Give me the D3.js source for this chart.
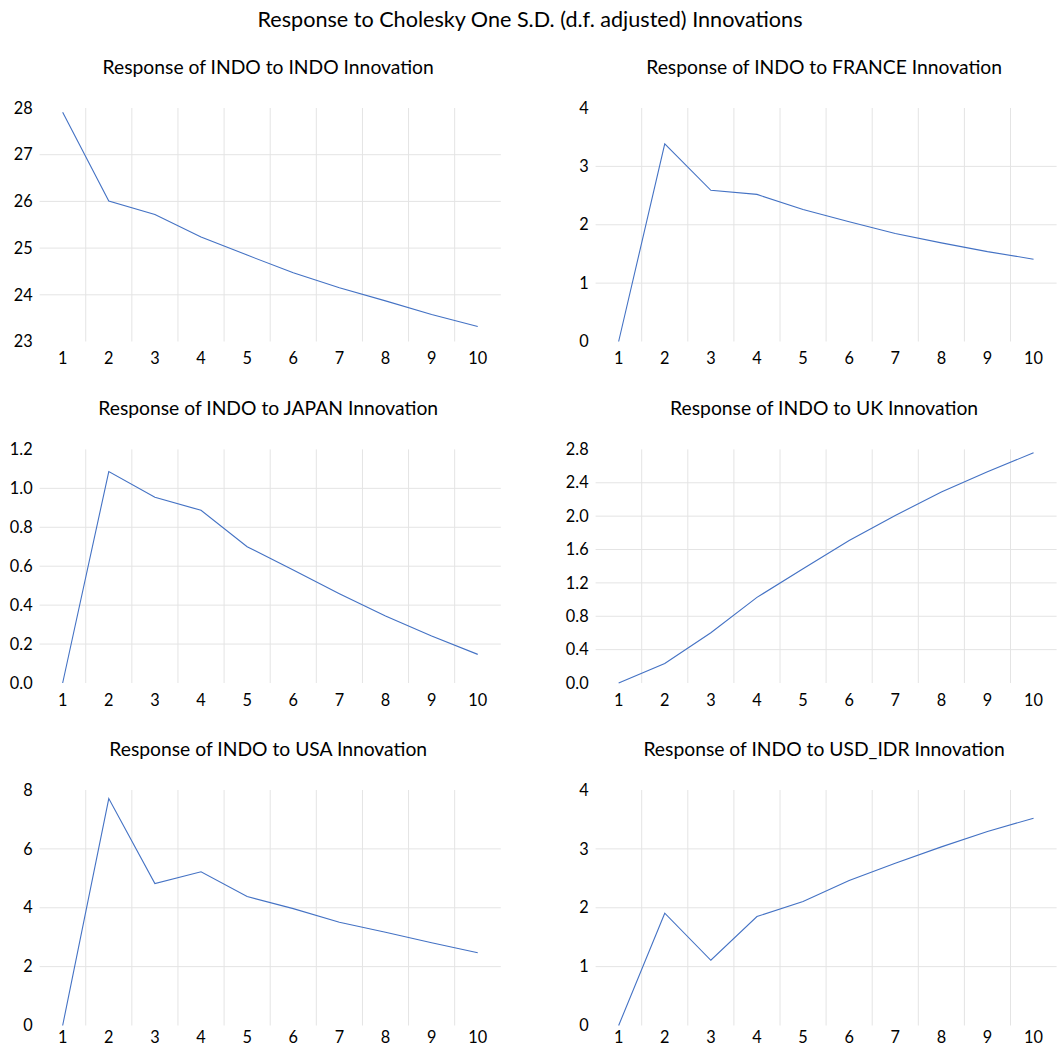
<!DOCTYPE html>
<html>
<head>
<meta charset="utf-8">
<script src="https://cdn.jsdelivr.net/npm/d3@7"></script>
<style>
  body { margin: 0; background: #fff; }
  svg { display: block; }
  text { font-family: Lato, "Open Sans", sans-serif; fill: #000; }
</style>
</head>
<body>
<svg id="chart" width="1061" height="1048"></svg>
<script>
// ---- data ----
const periods = [1, 2, 3, 4, 5, 6, 7, 8, 9, 10];

const indoToIndo   = [27.91, 26.01, 25.72, 25.24, 24.85, 24.47, 24.15, 23.87, 23.58, 23.32];
const indoToFrance = [0.00, 3.385, 2.59, 2.52, 2.26, 2.05, 1.85, 1.69, 1.54, 1.41];
const indoToJapan  = [0.00, 1.086, 0.954, 0.887, 0.700, 0.580, 0.459, 0.344, 0.241, 0.147];
const indoToUk     = [0.00, 0.234, 0.602, 1.026, 1.370, 1.707, 2.008, 2.289, 2.531, 2.760];
const indoToUsa    = [0.00, 7.71, 4.82, 5.22, 4.38, 3.97, 3.51, 3.17, 2.81, 2.47];
const indoToUsdIdr = [0.00, 1.907, 1.108, 1.850, 2.105, 2.462, 2.756, 3.034, 3.295, 3.521];

const ticksIndo   = [23, 24, 25, 26, 27, 28];
const ticksFrance = [0, 1, 2, 3, 4];
const ticksJapan  = [0.0, 0.2, 0.4, 0.6, 0.8, 1.0, 1.2];
const ticksUk     = [0.0, 0.4, 0.8, 1.2, 1.6, 2.0, 2.4, 2.8];
const ticksUsa    = [0, 2, 4, 6, 8];
const ticksUsdIdr = [0, 1, 2, 3, 4];

const mainTitle = "Response to Cholesky One S.D. (d.f. adjusted) Innovations";
const panelTitles = [
  "Response of INDO to INDO Innovation",
  "Response of INDO to FRANCE Innovation",
  "Response of INDO to JAPAN Innovation",
  "Response of INDO to UK Innovation",
  "Response of INDO to USA Innovation",
  "Response of INDO to USD_IDR Innovation"
];

const panels = [
  { title: panelTitles[0], values: indoToIndo,   ticks: ticksIndo,   fmt: d3.format("d") },
  { title: panelTitles[1], values: indoToFrance, ticks: ticksFrance, fmt: d3.format("d") },
  { title: panelTitles[2], values: indoToJapan,  ticks: ticksJapan,  fmt: d3.format(".1f") },
  { title: panelTitles[3], values: indoToUk,     ticks: ticksUk,     fmt: d3.format(".1f") },
  { title: panelTitles[4], values: indoToUsa,    ticks: ticksUsa,    fmt: d3.format("d") },
  { title: panelTitles[5], values: indoToUsdIdr, ticks: ticksUsdIdr, fmt: d3.format("d") }
];

// ---- layout ----
const svg = d3.select("#chart");
const colX = [[39.6, 500.8], [595.6, 1056.6]];
const rowY = [[108, 341.5], [449.4, 683], [790, 1025.5]];
const xPad = [11, 11, 6];
const gridColor = "#e4e4e4";
const lineColor = "#4472C4";

svg.append("text")
  .attr("x", 530)
  .attr("y", 27)
  .attr("text-anchor", "middle")
  .style("font-size", "21.6px")
  .text(mainTitle);

panels.forEach((p, i) => {
  const col = i % 2, row = Math.floor(i / 2);
  const [x0, x1] = colX[col];
  const [y0, y1] = rowY[row];

  const x = d3.scaleBand().domain(periods).range([x0, x1]).padding(0);
  const y = d3.scaleLinear().domain(d3.extent(p.ticks)).range([y1, y0]);

  const g = svg.append("g");

  // horizontal gridlines (interior ticks only)
  g.selectAll("line.hgrid")
    .data(p.ticks.slice(1, -1))
    .join("line")
    .attr("class", "hgrid")
    .attr("x1", x0).attr("x2", x1)
    .attr("y1", d => y(d)).attr("y2", d => y(d))
    .attr("stroke", gridColor).attr("stroke-width", 1);

  // vertical gridlines at interior band boundaries
  g.selectAll("line.vgrid")
    .data(periods.slice(1))
    .join("line")
    .attr("class", "vgrid")
    .attr("x1", d => x(d)).attr("x2", d => x(d))
    .attr("y1", y0).attr("y2", y1)
    .attr("stroke", gridColor).attr("stroke-width", 1);

  // y tick labels
  const yAxis = d3.axisLeft(y).tickValues(p.ticks).tickFormat(p.fmt).tickSize(0).tickPadding(7);
  const ya = g.append("g").attr("transform", `translate(${x0},0)`).call(yAxis);
  ya.select(".domain").remove();
  ya.selectAll("text").style("font-size", "16.3px").attr("fill", "#000").style("font-family", "Lato, sans-serif");

  // x tick labels
  const xAxis = d3.axisBottom(x).tickSize(0).tickPadding(xPad[row]);
  const xa = g.append("g").attr("transform", `translate(0,${y1})`).call(xAxis);
  xa.select(".domain").remove();
  xa.selectAll("text").style("font-size", "16.3px").attr("fill", "#000").style("font-family", "Lato, sans-serif");

  // line
  const line = d3.line()
    .x((d, k) => x(periods[k]) + x.bandwidth() / 2)
    .y(d => y(d));
  g.append("path")
    .datum(p.values)
    .attr("d", line)
    .attr("fill", "none")
    .attr("stroke", lineColor)
    .attr("stroke-width", 1.1);

  // panel title
  svg.append("text")
    .attr("x", (x0 + x1) / 2 - 2)
    .attr("y", y0 - 34)
    .attr("text-anchor", "middle")
    .style("font-size", "19.3px")
    .text(p.title);
});
</script>
</body>
</html>
